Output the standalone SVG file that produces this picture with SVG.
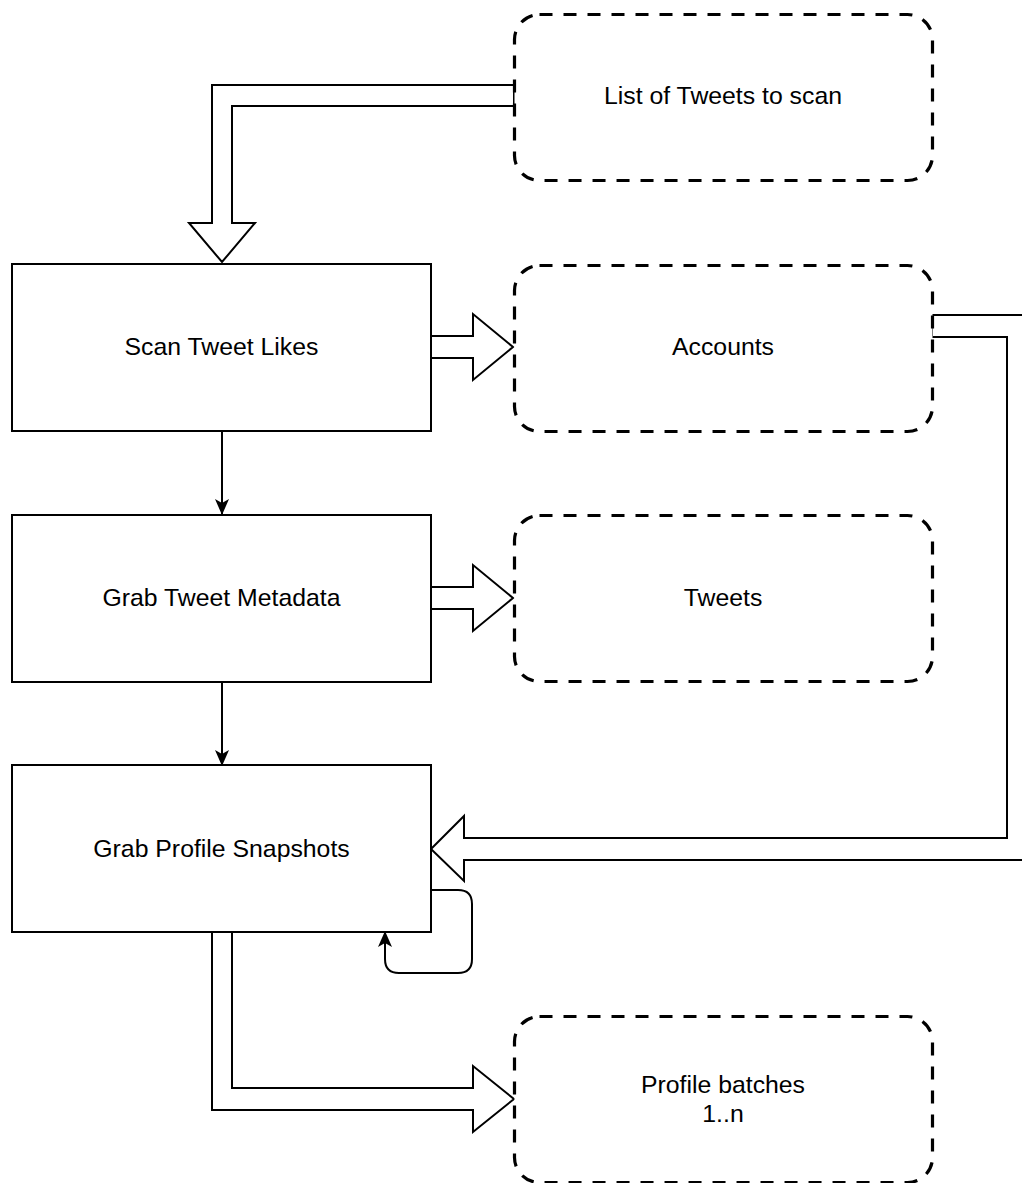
<svg xmlns="http://www.w3.org/2000/svg" width="1022" height="1183" viewBox="0 0 1022 1183">
<style>
.proc{fill:#fff;stroke:#000;stroke-width:2}
.store{fill:#fff;stroke:#000;stroke-width:3.2;stroke-dasharray:13 11}
.flex{fill:#fff;stroke:#000;stroke-width:2;stroke-linejoin:miter}
.line{fill:none;stroke:#000;stroke-width:2}
text{font-family:"Liberation Sans",Arial,Helvetica,sans-serif;font-size:24.8px;fill:#000;text-anchor:middle}
</style>
<defs>
<marker id="arr" viewBox="0 0 16 14" refX="15" refY="7" markerWidth="16" markerHeight="14" markerUnits="userSpaceOnUse" orient="auto">
<path d="M0,0 L16,7 L0,14 L4,7 Z" fill="#000"/>
</marker>
</defs>
<rect width="1022" height="1183" fill="#fff"/>
<g id="connectors">
<path class="flex" d="M514,85 L212,85 L212,223 L189,223 L222,262 L255,223 L232,223 L232,106 L514,106 Z"/>
<path class="flex" d="M431,336 L473,336 L473,314 L513,347 L473,380 L473,358 L431,358 Z"/>
<path class="flex" d="M431,587 L473,587 L473,565 L513,598 L473,631 L473,609 L431,609 Z"/>
<path class="flex" d="M932,315 L1030,315 L1030,860 L464,860 L464,881 L431,849 L464,816 L464,838 L1007,838 L1007,337 L932,337 Z"/>
<path class="flex" d="M212,932 L212,1110 L473,1110 L473,1132 L514,1099 L473,1066 L473,1088 L232,1088 L232,932 Z"/>
<line class="line" x1="222" y1="431" x2="222" y2="514" marker-end="url(#arr)"/>
<line class="line" x1="222" y1="682" x2="222" y2="765" marker-end="url(#arr)"/>
<path class="line" d="M431,890 L458,890 Q472,890 472,904 L472,959 Q472,973 458,973 L399,973 Q385,973 385,959 L385,932" marker-end="url(#arr)"/>
</g>
<g id="list-tweets">
<rect class="store" x="514.5" y="14.5" width="418" height="166" rx="25" ry="25"/>
<text x="723" y="104">List of Tweets to scan</text>
</g>
<g id="scan-likes">
<rect class="proc" x="12" y="264" width="419" height="167"/>
<text x="221.5" y="355">Scan Tweet Likes</text>
</g>
<g id="accounts">
<rect class="store" x="514.5" y="265.5" width="418" height="166" rx="25" ry="25"/>
<text x="723" y="355">Accounts</text>
</g>
<g id="grab-metadata">
<rect class="proc" x="12" y="515" width="419" height="167"/>
<text x="221.5" y="606">Grab Tweet Metadata</text>
</g>
<g id="tweets">
<rect class="store" x="514.5" y="515.5" width="418" height="166" rx="25" ry="25"/>
<text x="723" y="606">Tweets</text>
</g>
<g id="grab-profiles">
<rect class="proc" x="12" y="765" width="419" height="167"/>
<text x="221.5" y="857">Grab Profile Snapshots</text>
</g>
<g id="profile-batches">
<rect class="store" x="514.5" y="1016.5" width="418" height="166" rx="25" ry="25"/>
<text x="723" y="1093">Profile batches</text>
<text x="723" y="1122">1..n</text>
</g>
</svg>
